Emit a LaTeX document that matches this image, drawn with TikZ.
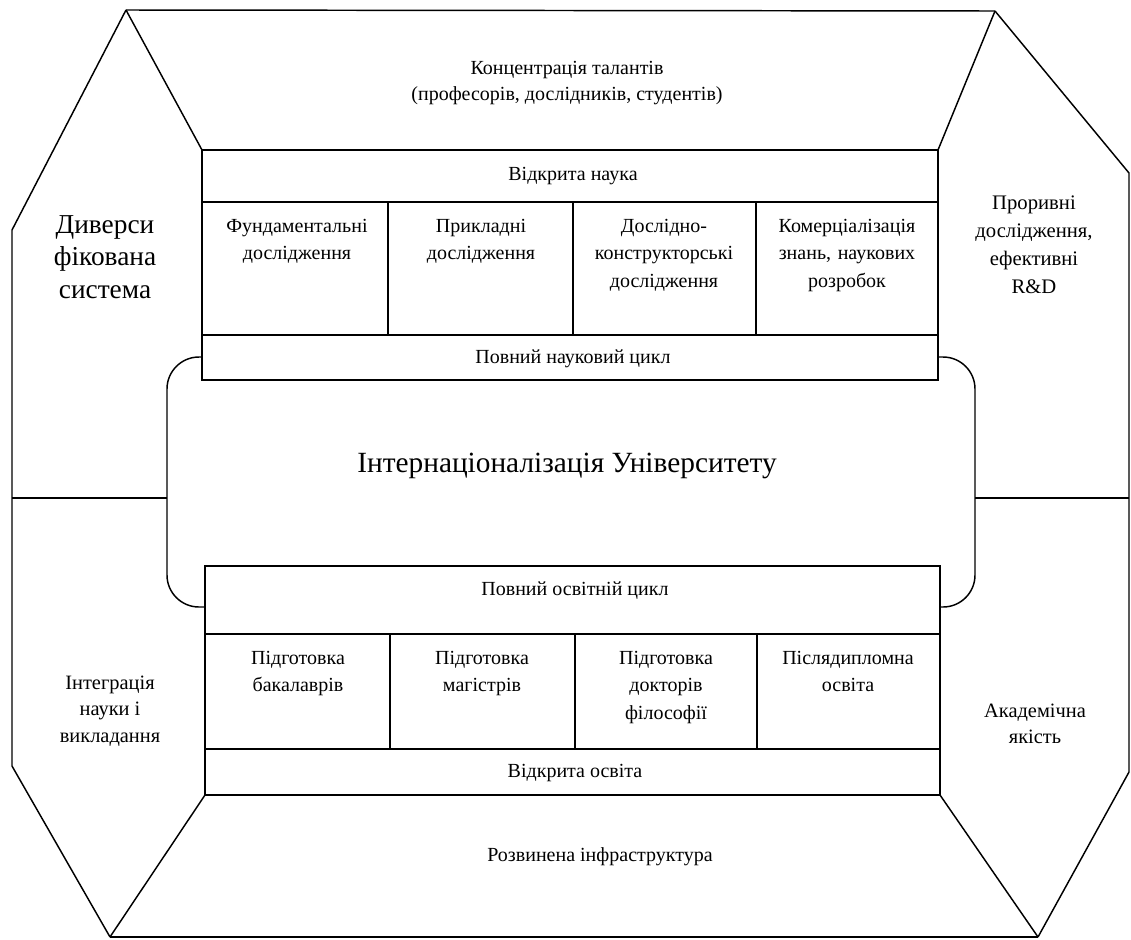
\documentclass[tikz,border=0pt]{standalone}
\usepackage{fontspec}
\setmainfont{Liberation Serif}
\usetikzlibrary{positioning}

\begin{document}
\begin{tikzpicture}[x=0.75pt, y=-0.75pt, line width=1.1pt,
	txt/.style={align=center, font=\fontsize{15}{19.5}\selectfont},
	cell/.style={align=center, anchor=north, text width=130pt,
		font=\fontsize{15}{20.5}\selectfont},
	side/.style={align=center, font=\fontsize{15.3}{20}\selectfont},
	big/.style={align=center, font=\fontsize{20.5}{24.5}\selectfont}]
	\useasboundingbox (0,0) rectangle (1131,939);
	%% Frame
	\draw (126,10) -- (995,11);
	\draw (110,937) -- (1038,937);
	\draw (126,10) -- (12,230) -- (12,766) -- (110,937);
	\draw (995,11) -- (1129,173) -- (1129,772) -- (1038,937);
	\draw (126,10) -- (202,150);
	\draw (995,11) -- (938,150);
	\draw (110,937) -- (205,795);
	\draw (1038,937) -- (940,795);
	\draw (12,498) -- (167,498);
	\draw (975,498) -- (1129,498);
	%% Internationalisation
	\draw [rounded corners=24pt] (167,357) rectangle (975,607);
	\node [font=\fontsize{22}{26}\selectfont] at (567,466) (uni) {Інтернаціоналізація Університету};
	%% Science
	\draw [fill=white] (202,150) rectangle (938,380);
	\draw (202,202) -- (938,202);
	\draw (202,335) -- (938,335);
	\foreach \x in {388,573,756} \draw (\x,202) -- (\x,335);
	\node [txt] at (573,176) (opensci) {Відкрита наука};
	\node [cell] at (297,214) (fund) {Фундаментальні\\дослідження};
	\node [cell] at (481,214) (applied) {Прикладні\\дослідження};
	\node [cell] at (664,214) (design) {Дослідно-\\конструкторські\\дослідження};
	\node [cell] at (847,214) (commerce) {Комерціалізація\\знань, наукових\\розробок};
	\node [txt] at (573,359) (fullsci) {Повний науковий цикл};
	%% Education
	\draw [fill=white] (205,566) rectangle (940,795);
	\draw (205,634) -- (940,634);
	\draw (205,749) -- (940,749);
	\foreach \x in {390,575,757} \draw (\x,634) -- (\x,749);
	\node [txt] at (575,591) (fulledu) {Повний освітній цикл};
	\node [cell] at (298,646) (bach) {Підготовка\\бакалаврів};
	\node [cell] at (482,646) (mast) {Підготовка\\магістрів};
	\node [cell] at (666,646) (phd) {Підготовка\\докторів\\філософії};
	\node [cell] at (848,646) (postgrad) {Післядипломна\\освіта};
	\node [txt] at (575,773) (openedu) {Відкрита освіта};
	%% Sides
	\node [txt] at (567,83) (talents) {Концентрація талантів\\(професорів, дослідників, студентів)};
	\node [txt] at (600,857) (infra) {Розвинена інфраструктура};
	\node [big] at (105,257) (divers) {Диверси\\фікована\\система};
	\node [side, font=\fontsize{15.5}{21}\selectfont] at (1034,245) (breakthru) {Проривні\\дослідження,\\ефективні\\R\&D};
	\node [side] at (110,711) (integr) {Інтеграція\\науки і\\викладання};
	\node [side] at (1035,724) (quality) {Академічна\\якість};
\end{tikzpicture}
\end{document}
